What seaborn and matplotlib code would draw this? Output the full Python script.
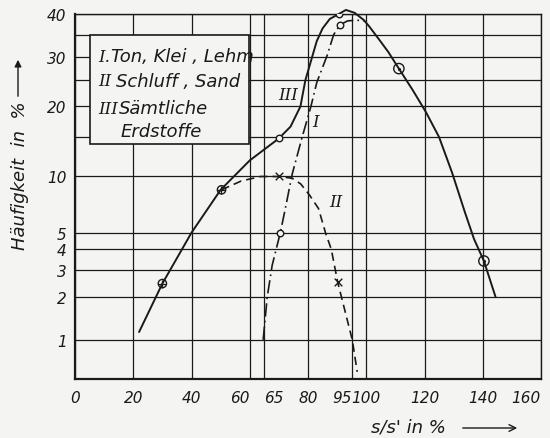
import numpy as np
import matplotlib
matplotlib.use("Agg")
import matplotlib.pyplot as plt
import matplotlib.patches as mpatches
import seaborn as sns
from statistics import NormalDist

# curve III - Sämtliche Erdstoffe (solid)
x_all = [22, 30, 40, 50, 60, 70, 74, 77.4, 79.1, 81, 83, 85, 87.5, 90.6, 93, 96,
         99.2, 101, 104.5, 107.6, 111.2, 116, 120.5, 125, 129.5, 134, 137, 140.4, 144.4]
y_all = [1.14, 2.45, 5.0, 8.5, 11.8, 14.8, 16.6, 20, 25, 29, 33.5, 36.5, 38.8, 40, 41, 40.3,
         38.5, 37, 33.8, 31, 27.4, 23, 19, 15, 10.3, 6.4, 4.6, 3.4, 2.0]

# curve I - Ton, Klei, Lehm (dash-dot)
x_ton = [64.6, 66, 67.7, 70.5, 72.3, 74.6, 78, 81, 83, 86.6, 88.8, 90.9, 93.5, 96.5, 99.5]
y_ton = [1.0, 2.0, 3.2, 5.0, 6.9, 10.2, 15, 20, 24.5, 30.3, 35, 37.3, 38.3, 38.5, 38.3]

# curve II - Schluff, Sand (dashed)
x_sand = [50.3, 57, 63.7, 70.2, 74.6, 77.5, 80.5, 83.6, 86, 88, 90.2, 95.2, 96.9]
y_sand = [8.5, 9.4, 9.9, 9.9, 9.7, 9.1, 8.0, 6.8, 5.0, 4.0, 2.5, 1.0, 0.57]

# measured points
x_plus = [30, 50.3]
y_plus = [2.45, 8.5]
x_ring = [70.2, 90.6, 70.5, 90.9]
y_ring = [14.8, 40, 5.0, 37.3]
x_dot = [111.2, 140.4]
y_dot = [27.4, 3.4]
x_cross = [70.2, 90.2]
y_cross = [9.9, 2.5]

x_ticks = [0, 20, 40, 60, 65, 80, 95, 100, 120, 140, 160]
y_ticks = [1, 2, 3, 4, 5, 10, 20, 30, 40]
y_minor = [15, 25, 35]

_nd = NormalDist()


def probit(v):
    v = np.clip(np.asarray(v, dtype=float), 1e-6, 100 - 1e-6)
    return np.vectorize(lambda p: _nd.inv_cdf(p / 100.0), otypes=[float])(v)


def probit_inv(z):
    z = np.asarray(z, dtype=float)
    return np.vectorize(lambda q: _nd.cdf(q) * 100.0, otypes=[float])(z)


sns.set_style("white")
plt.rcParams["font.family"] = ["Liberation Sans Narrow", "DejaVu Sans"]
plt.rcParams["font.style"] = "italic"

bg = "#f4f4f2"
ink = "#1a1a1a"

fig = plt.figure(figsize=(5.5, 4.39), dpi=100, facecolor=bg)
ax = fig.add_axes([75 / 550, 1 - 380 / 439, 466 / 550, 365 / 439])
ax.set_facecolor(bg)
ax.set_yscale("function", functions=(probit, probit_inv))
ax.set_xlim(0, 160)
ax.set_ylim(0.5, 40)

# grid
ax.set_xticks(x_ticks)
ax.set_yticks(y_ticks)
ax.set_yticks(y_minor, minor=True)
ax.grid(True, which="both", color=ink, lw=0.9)
ax.tick_params(axis="y", which="minor", length=0)
ax.tick_params(axis="y", which="major", length=5, width=1, pad=1, labelsize=11, colors=ink)
ax.tick_params(axis="x", length=4, width=1, pad=4, labelsize=11, colors=ink)
ax.set_xticklabels([str(t) for t in x_ticks])
ax.set_yticklabels([str(t) for t in y_ticks])
for lab in ax.get_xticklabels():
    if lab.get_text() in ("60", "95", "160"):
        lab.set_ha("right")
    elif lab.get_text() == "65":
        lab.set_ha("left")
for side in ["left", "bottom"]:
    ax.spines[side].set_linewidth(1.6)
for side in ["top", "right"]:
    ax.spines[side].set_linewidth(1.0)
for s in ax.spines.values():
    s.set_color(ink)

# curves
sns.lineplot(x=x_all, y=y_all, sort=False, estimator=None, color=ink, lw=1.4, ax=ax)
sns.lineplot(x=x_ton, y=y_ton, sort=False, estimator=None, color=ink, lw=1.2,
             linestyle=(0, (8, 2.5, 1, 2.5)), ax=ax)
sns.lineplot(x=x_sand, y=y_sand, sort=False, estimator=None, color=ink, lw=1.2,
             linestyle=(0, (5, 3)), ax=ax)
for ln in ax.lines:
    ln.set_clip_on(False)

# markers
sns.scatterplot(x=x_plus, y=y_plus, marker="o", s=36, facecolor="none", edgecolor=ink,
                linewidth=1, ax=ax, zorder=5)
sns.scatterplot(x=x_plus, y=y_plus, marker="+", s=36, color=ink, linewidth=0.9, ax=ax, zorder=5)
sns.scatterplot(x=x_ring, y=y_ring, marker="o", s=22, facecolor=bg, edgecolor=ink,
                linewidth=1, ax=ax, zorder=5)
sns.scatterplot(x=x_dot, y=y_dot, marker="o", s=55, facecolor="none", edgecolor=ink,
                linewidth=1, ax=ax, zorder=5)
sns.scatterplot(x=x_dot, y=y_dot, marker="o", s=5, color=ink, linewidth=0, ax=ax, zorder=5)
sns.scatterplot(x=x_cross, y=y_cross, marker="x", s=30, color=ink, linewidth=1, ax=ax, zorder=5)

# curve labels
num_font = dict(family=["DejaVu Serif"], style="italic", fontsize=12, color=ink)
ax.text(73.3, 22.2, "III", ha="center", va="center", **num_font)
ax.text(82.6, 17.5, "I", ha="center", va="center", **num_font)
ax.text(89.4, 7.4, "II", ha="center", va="center", **num_font)

# legend box
box = mpatches.Rectangle((90 / 550, 1 - 145 / 439), 159 / 550, 109 / 439,
                         transform=fig.transFigure, facecolor=bg, edgecolor=ink,
                         lw=1.2, zorder=4, clip_on=False)
ax.add_patch(box)
leg_font = dict(fontsize=13, color=ink, va="center", zorder=6)
num_leg = dict(family=["DejaVu Serif"], style="italic", fontsize=12, color=ink, va="center")
fig.text(98 / 550, 1 - 57 / 439, "I.", **num_leg)
fig.text(111 / 550, 1 - 57 / 439, "Ton, Klei , Lehm", **leg_font)
fig.text(98 / 550, 1 - 82 / 439, "II", **num_leg)
fig.text(116 / 550, 1 - 82 / 439, "Schluff , Sand", **leg_font)
fig.text(98 / 550, 1 - 109 / 439, "III", **num_leg)
fig.text(119 / 550, 1 - 109 / 439, "Sämtliche", **leg_font)
fig.text(121 / 550, 1 - 132 / 439, "Erdstoffe", **leg_font)

# axis labels with arrows
fig.text(20 / 550, 1 - 176 / 439, "Häufigkeit  in  %", rotation=90, ha="center",
         va="center", fontsize=13, color=ink)
fig.text(408 / 550, 1 - 428 / 439, "s/s' in %", ha="center", va="center",
         fontsize=13, color=ink)
ax.annotate("", xy=(18 / 550, 1 - 58 / 439), xytext=(18 / 550, 1 - 100 / 439),
            xycoords="figure fraction", textcoords="figure fraction",
            arrowprops=dict(arrowstyle="-|>", color=ink, lw=1, mutation_scale=10))
ax.annotate("", xy=(520 / 550, 1 - 429 / 439), xytext=(460 / 550, 1 - 429 / 439),
            xycoords="figure fraction", textcoords="figure fraction",
            arrowprops=dict(arrowstyle="->", color=ink, lw=1, mutation_scale=12))

fig.savefig("out.png", dpi=100, facecolor=bg)
